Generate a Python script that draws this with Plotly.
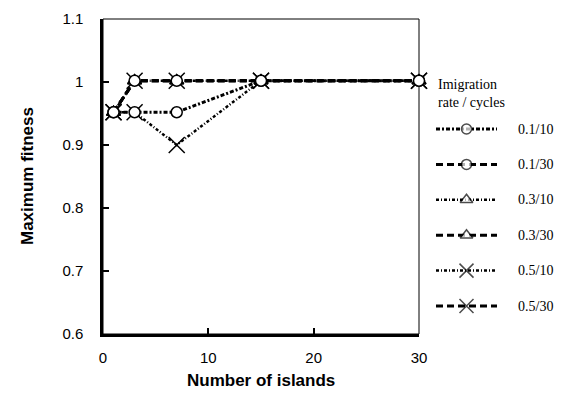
import plotly.graph_objects as go

islands = [1, 3, 7, 15, 30]
series_names = ["0.1/10", "0.1/30", "0.3/10", "0.3/30", "0.5/10", "0.5/30"]
fit_01_10 = [0.952, 0.952, 0.952, 1.002, 1.002]
fit_01_30 = [0.952, 1.002, 1.002, 1.002, 1.002]
fit_03_10 = [0.952, 1.002, 1.002, 1.002, 1.002]
fit_03_30 = [0.952, 1.002, 1.002, 1.002, 1.002]
fit_05_10 = [0.952, 0.952, 0.900, 1.002, 1.002]
fit_05_30 = [0.952, 1.002, 1.002, 1.002, 1.002]
y_ticks = [0.6, 0.7, 0.8, 0.9, 1.0, 1.1]
y_ticktext = ["0.6", "0.7", "0.8", "0.9", "1", "1.1"]
x_ticks = [0, 10, 20, 30]

data = dict(zip(series_names, [fit_01_10, fit_01_30, fit_03_10, fit_03_30, fit_05_10, fit_05_30]))

# page body has an 8px margin; figure is sized to fit the 572x394 window
OFF = 8
W, H = 572 - OFF, 394 - OFF


def px(x):
    return (x - OFF) / W


def py(y):
    return (394 - y) / H


style = {
    "0.1/10": dict(dash="4px,2px,2px,2px", width=3, symbol="circle", msize=11, lsize=10),
    "0.1/30": dict(dash="7px,4px", width=3, symbol="circle", msize=11, lsize=10),
    "0.3/10": dict(dash="3px,2px,1px,2px", width=2.5, symbol="triangle-up", msize=12, lsize=11),
    "0.3/30": dict(dash="7px,4px", width=3, symbol="triangle-up", msize=12, lsize=11),
    "0.5/10": dict(dash="3px,2px,1px,2px", width=2.5, symbol="x-thin", msize=16, lsize=14),
    "0.5/30": dict(dash="7px,4px", width=3, symbol="x-thin", msize=16, lsize=14),
}


def marker(s, size):
    if s["symbol"] == "x-thin":
        return dict(symbol="x-thin", size=size, color="black", line=dict(color="black", width=1.5))
    return dict(symbol=s["symbol"], size=size, color="white", line=dict(color="black", width=1.5))


fig = go.Figure()
# draw triangles, then crosses, then circles on top
order = ["0.3/10", "0.3/30", "0.5/10", "0.5/30", "0.1/10", "0.1/30"]
for name in order:
    s = style[name]
    fig.add_trace(go.Scatter(
        x=islands, y=data[name], mode="lines+markers", name=name,
        line=dict(color="black", width=s["width"], dash=s["dash"]),
        marker=marker(s, s["msize"]), cliponaxis=False, showlegend=False,
        xaxis="x", yaxis="y"))

# legend samples on a separate small axis
for i, name in enumerate(series_names):
    s = style[name]
    fig.add_trace(go.Scatter(
        x=[0, 1, 2], y=[i, i, i], mode="lines+markers",
        line=dict(color="black", width=s["width"], dash=s["dash"]),
        marker=marker(s, [0, s["lsize"], 0]),
        cliponaxis=False, showlegend=False, xaxis="x2", yaxis="y2"))
    fig.add_annotation(x=px(516), xref="paper", y=i, yref="y2", text=name,
                       showarrow=False, xanchor="left", yanchor="middle",
                       font=dict(family="Liberation Serif", size=14, color="black"))

fig.add_annotation(x=px(436), xref="paper", y=py(93), yref="paper",
                   text="Imigration<br>rate / cycles", showarrow=False, align="left",
                   xanchor="left", yanchor="middle",
                   font=dict(family="Liberation Serif", size=14, color="black"))

# axis titles
fig.add_annotation(x=px(261), xref="paper", y=py(380), yref="paper",
                   text="<b>Number of islands</b>", showarrow=False,
                   xanchor="center", yanchor="middle",
                   font=dict(family="Liberation Sans", size=17, color="black"))
fig.add_annotation(x=px(27), xref="paper", y=py(176), yref="paper",
                   text="<b>Maximum fitness</b>", showarrow=False, textangle=-90,
                   xanchor="center", yanchor="middle",
                   font=dict(family="Liberation Sans", size=17, color="black"))

# thin frame on top/right
fig.add_shape(type="rect", xref="x domain", yref="y domain", x0=0, x1=1, y0=0, y1=1,
              line=dict(color="black", width=1), layer="below")

fig.update_layout(
    width=W, height=H, autosize=False,
    margin=dict(l=0, r=0, t=0, b=0, pad=0, autoexpand=False),
    paper_bgcolor="white", plot_bgcolor="white",
    font=dict(family="Liberation Sans", size=15, color="black"),
    xaxis=dict(domain=[px(103), px(419)], range=[0, 30], tickvals=x_ticks,
               ticks="inside", ticklen=6, tickwidth=1.5, tickcolor="black",
               showline=True, linewidth=2.5, linecolor="black", showgrid=False,
               zeroline=False, ticklabelstandoff=8, automargin=False,
               tickfont=dict(family="Liberation Sans", size=15)),
    yaxis=dict(domain=[py(334), py(19)], range=[0.6, 1.1],
               tickvals=y_ticks, ticktext=y_ticktext,
               ticks="inside", ticklen=6, tickwidth=1.5, tickcolor="black",
               showline=True, linewidth=2.5, linecolor="black", showgrid=False,
               zeroline=False, ticklabelstandoff=14, automargin=False,
               tickfont=dict(family="Liberation Sans", size=15)),
    xaxis2=dict(domain=[px(436), px(497)], range=[0, 2], visible=False,
                anchor="y2", fixedrange=True, automargin=False),
    yaxis2=dict(domain=[py(323.7), py(111.3)], range=[5.5, -0.5],
                visible=False, anchor="x2", fixedrange=True, automargin=False),
)

fig.write_html("out.html")
